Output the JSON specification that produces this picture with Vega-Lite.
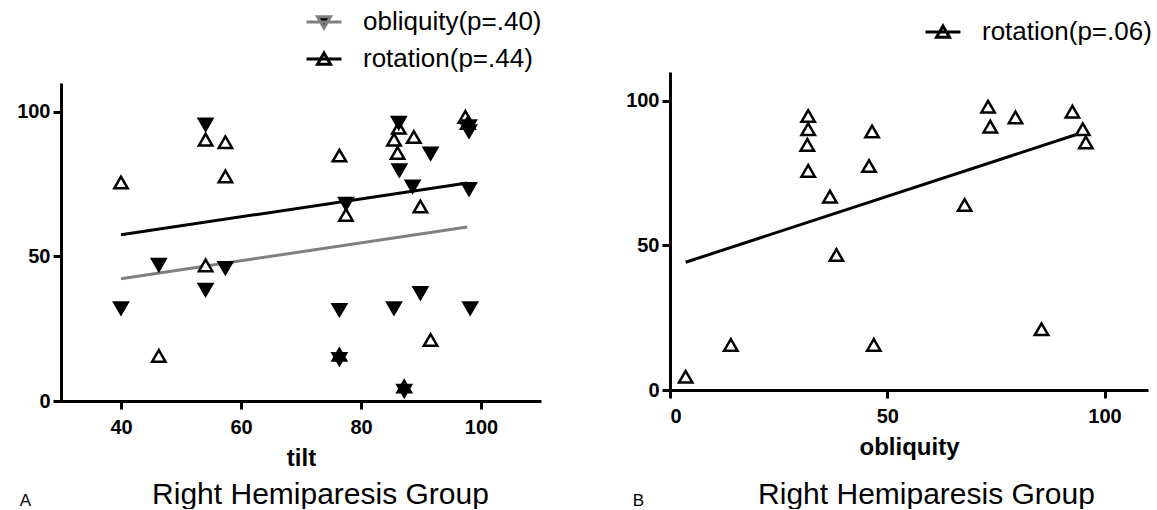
{
  "$schema": "https://vega.github.io/schema/vega-lite/v6.json",
  "background": "white",
  "padding": {"left": 16, "top": 3, "right": 0, "bottom": 0},
  "spacing": 83,
  "align": "none",
  "resolve": {"scale": {"color": "independent", "stroke": "independent", "shape": "independent", "fill": "independent"}, "legend": {"color": "independent", "stroke": "independent"}},
  "config": {
    "font": "Liberation Sans",
    "view": {"stroke": null},
    "axis": {
      "domainColor": "black", "domainWidth": 3, "tickColor": "black", "tickWidth": 3, "tickSize": 8,
      "labelFontSize": 20, "labelFontWeight": "bold", "labelColor": "black", "labelFont": "Liberation Sans",
      "grid": false, "titleColor": "black", "titleFont": "Liberation Sans"
    },
    "legend": {"labelFont": "Liberation Sans", "labelColor": "black", "labelFontSize": 26, "labelLimit": 400},
    "title": {"font": "Liberation Sans", "color": "black", "fontWeight": "normal", "fontSize": 17}
  },
  "datasets": {
    "left": [
      {"tilt": 40, "value": 75.6, "series": "rotation"},
      {"tilt": 46.3, "value": 15.6, "series": "rotation"},
      {"tilt": 54.1, "value": 90.4, "series": "rotation"},
      {"tilt": 54.1, "value": 46.9, "series": "rotation"},
      {"tilt": 57.4, "value": 89.5, "series": "rotation"},
      {"tilt": 57.4, "value": 77.7, "series": "rotation"},
      {"tilt": 76.4, "value": 84.9, "series": "rotation"},
      {"tilt": 76.4, "value": 16.0, "series": "rotation"},
      {"tilt": 77.5, "value": 64.4, "series": "rotation"},
      {"tilt": 86.3, "value": 94.5, "series": "rotation"},
      {"tilt": 85.5, "value": 90.4, "series": "rotation"},
      {"tilt": 86.1, "value": 85.8, "series": "rotation"},
      {"tilt": 88.8, "value": 91.3, "series": "rotation"},
      {"tilt": 89.9, "value": 67.3, "series": "rotation"},
      {"tilt": 91.6, "value": 21.1, "series": "rotation"},
      {"tilt": 87.2, "value": 5.0, "series": "rotation"},
      {"tilt": 97.4, "value": 98.3, "series": "rotation"},
      {"tilt": 97.8, "value": 96.2, "series": "rotation"},
      {"tilt": 40, "value": 32.1, "series": "obliquity"},
      {"tilt": 46.3, "value": 47.1, "series": "obliquity"},
      {"tilt": 54.1, "value": 95.6, "series": "obliquity"},
      {"tilt": 54.1, "value": 38.5, "series": "obliquity"},
      {"tilt": 57.4, "value": 46.0, "series": "obliquity"},
      {"tilt": 76.4, "value": 31.5, "series": "obliquity"},
      {"tilt": 76.4, "value": 14.5, "series": "obliquity"},
      {"tilt": 77.5, "value": 68.2, "series": "obliquity"},
      {"tilt": 86.3, "value": 96.2, "series": "obliquity"},
      {"tilt": 86.4, "value": 79.8, "series": "obliquity"},
      {"tilt": 85.5, "value": 32.1, "series": "obliquity"},
      {"tilt": 87.2, "value": 3.5, "series": "obliquity"},
      {"tilt": 88.6, "value": 74.2, "series": "obliquity"},
      {"tilt": 89.9, "value": 37.3, "series": "obliquity"},
      {"tilt": 91.6, "value": 85.6, "series": "obliquity"},
      {"tilt": 98.0, "value": 95.0, "series": "obliquity"},
      {"tilt": 98.0, "value": 93.3, "series": "obliquity"},
      {"tilt": 98.0, "value": 73.3, "series": "obliquity"},
      {"tilt": 98.2, "value": 32.1, "series": "obliquity"}
    ],
    "leftFitObl": [
      {"tilt": 40, "value": 42.3, "series": "obliquity"},
      {"tilt": 97.7, "value": 60.2, "series": "obliquity"}
    ],
    "leftFitRot": [
      {"tilt": 40, "value": 57.5, "series": "rotation"},
      {"tilt": 97.7, "value": 75.4, "series": "rotation"}
    ],
    "right": [
      {"obliquity": 3.6, "value": 4.6, "series": "rotation"},
      {"obliquity": 14.0, "value": 15.6, "series": "rotation"},
      {"obliquity": 31.8, "value": 94.8, "series": "rotation"},
      {"obliquity": 31.8, "value": 90.2, "series": "rotation"},
      {"obliquity": 31.6, "value": 84.8, "series": "rotation"},
      {"obliquity": 31.8, "value": 75.8, "series": "rotation"},
      {"obliquity": 36.8, "value": 66.9, "series": "rotation"},
      {"obliquity": 38.3, "value": 46.7, "series": "rotation"},
      {"obliquity": 46.5, "value": 89.4, "series": "rotation"},
      {"obliquity": 45.8, "value": 77.5, "series": "rotation"},
      {"obliquity": 46.9, "value": 15.6, "series": "rotation"},
      {"obliquity": 73.2, "value": 98.0, "series": "rotation"},
      {"obliquity": 73.7, "value": 91.1, "series": "rotation"},
      {"obliquity": 79.5, "value": 94.3, "series": "rotation"},
      {"obliquity": 67.8, "value": 64.0, "series": "rotation"},
      {"obliquity": 85.5, "value": 21.0, "series": "rotation"},
      {"obliquity": 92.6, "value": 96.3, "series": "rotation"},
      {"obliquity": 95.0, "value": 90.2, "series": "rotation"},
      {"obliquity": 95.7, "value": 85.6, "series": "rotation"}
    ],
    "rightFit": [
      {"obliquity": 3.6, "value": 44.2, "series": "rotation"},
      {"obliquity": 94.4, "value": 88.8, "series": "rotation"}
    ]
  },
  "hconcat": [
    {
      "width": 480,
      "height": 318,
      "title": {"text": "A", "orient": "bottom", "anchor": "start", "frame": "bounds", "offset": 0, "dx": 3, "dy": -16},
      "layer": [
        {
          "data": {"name": "leftFitObl"},
          "mark": {"type": "line", "strokeWidth": 3},
          "encoding": {
            "x": {"field": "tilt", "type": "quantitative"},
            "y": {"field": "value", "type": "quantitative"},
            "color": {"field": "series", "type": "nominal",
              "scale": {"domain": ["obliquity"], "range": ["#7f7f7f"]},
              "legend": {
                "orient": "none", "legendX": 244, "legendY": -80, "title": null, "padding": 0,
                "labelOffset": 20, "symbolSize": 1225, "symbolStrokeWidth": 3,
                "symbolType": "M-1,0H1M-0.37,-0.3L0.37,-0.3L0,0.34Z",
                "symbolFillColor": "black",
                "labelExpr": "'obliquity(p=.40)'"
              }}
          }
        },
        {
          "data": {"name": "leftFitRot"},
          "mark": {"type": "line", "strokeWidth": 3},
          "encoding": {
            "x": {"field": "tilt", "type": "quantitative"},
            "y": {"field": "value", "type": "quantitative"},
            "stroke": {"field": "series", "type": "nominal",
              "scale": {"domain": ["rotation"], "range": ["black"]},
              "legend": {
                "orient": "none", "legendX": 244, "legendY": -43, "title": null, "padding": 0,
                "labelOffset": 20, "symbolSize": 1225, "symbolStrokeWidth": 3,
                "symbolType": "M-1,0H1M-0.37,0.3L0.37,0.3L0,-0.34Z",
                "symbolFillColor": "white",
                "labelExpr": "'rotation(p=.44)'"
              }}
          }
        },
        {
          "data": {"name": "left"},
          "mark": {"type": "point", "filled": true, "size": 180, "stroke": "black", "strokeWidth": 2.5, "opacity": 1},
          "encoding": {
            "x": {"field": "tilt", "type": "quantitative",
              "scale": {"domain": [30, 110], "nice": false, "zero": false},
              "axis": {"values": [40, 60, 80, 100], "title": "tilt", "titleFontSize": 24, "titleFontWeight": "bold", "labelPadding": 8, "titlePadding": 9}},
            "y": {"field": "value", "type": "quantitative",
              "scale": {"domain": [0, 110], "nice": false},
              "axis": {"values": [0, 50, 100], "labelPadding": 3, "title": "Right Hemiparesis Group", "titleAngle": 0, "titleX": 259, "titleY": 420, "titleAlign": "center", "titleBaseline": "alphabetic", "titleFontSize": 30, "titleFontWeight": "normal"}},
            "fill": {"field": "series", "type": "nominal", "scale": {"domain": ["obliquity", "rotation"], "range": ["black", "white"]}, "legend": null},
            "shape": {"field": "series", "type": "nominal", "scale": {"domain": ["obliquity", "rotation"], "range": ["triangle-down", "triangle-up"]}, "legend": null}
          }
        }
      ]
    },
    {
      "width": 478,
      "height": 318,
      "title": {"text": "B", "orient": "bottom", "anchor": "start", "frame": "bounds", "offset": 0, "dx": 7, "dy": -16},
      "layer": [
        {
          "data": {"name": "rightFit"},
          "mark": {"type": "line", "strokeWidth": 3},
          "encoding": {
            "x": {"field": "obliquity", "type": "quantitative"},
            "y": {"field": "value", "type": "quantitative"},
            "color": {"field": "series", "type": "nominal",
              "scale": {"domain": ["rotation"], "range": ["black"]},
              "legend": {
                "orient": "none", "legendX": 244, "legendY": -80, "title": null, "padding": 10,
                "labelOffset": 20, "symbolSize": 1225, "symbolStrokeWidth": 3,
                "symbolType": "M-1,0H1M-0.37,0.3L0.37,0.3L0,-0.34Z",
                "symbolFillColor": "white",
                "labelExpr": "'rotation(p=.06)'"
              }}
          }
        },
        {
          "data": {"name": "right"},
          "mark": {"type": "point", "filled": true, "size": 180, "stroke": "black", "strokeWidth": 2.5, "opacity": 1, "fill": "white", "shape": "triangle-up"},
          "encoding": {
            "x": {"field": "obliquity", "type": "quantitative",
              "scale": {"domain": [0, 110], "nice": false},
              "axis": {"values": [0, 50, 100], "offset": -11, "title": "obliquity", "titleFontSize": 24, "titleFontWeight": "bold", "labelPadding": 8, "titlePadding": 9}},
            "y": {"field": "value", "type": "quantitative",
              "scale": {"domain": [0, 110], "nice": false, "range": [307, -11]},
              "axis": {"values": [0, 50, 100], "labelPadding": 3, "title": "Right Hemiparesis Group", "titleAngle": 0, "titleX": 256, "titleY": 420, "titleAlign": "center", "titleBaseline": "alphabetic", "titleFontSize": 30, "titleFontWeight": "normal"}}
          }
        }
      ]
    }
  ]
}
